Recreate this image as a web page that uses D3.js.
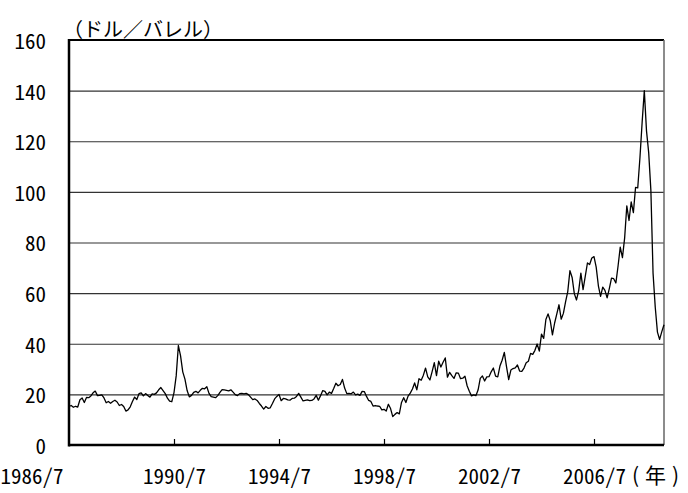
<!DOCTYPE html>
<html>
<head>
<meta charset="utf-8">
<script src="https://cdn.jsdelivr.net/npm/d3@7"></script>
<style>
body { margin: 0; background: #fff; }
text { font-family: "Noto Sans CJK JP", "Noto Sans", sans-serif; fill: #000; }
.num { font-feature-settings: "hwid" 1; }
</style>
</head>
<body>
<div id="chart"></div>
<script>
// monthly crude price (USD/bbl), first value = 1986/7
const startYear = 1986, startMonth = 7;
const prices1986 = [15.2, 15.6, 14.9, 15.3, 15.0, 17.9];
const prices1987 = [18.6, 16.8, 18.8, 18.7, 19.4, 20.6, 21.3, 19.5, 19.6, 19.8, 18.6, 16.7];
const prices1988 = [17.2, 16.5, 17.2, 17.7, 17.0, 15.6, 16.0, 15.2, 13.4, 13.9, 15.1, 17.2];
const prices1989 = [18.9, 18.0, 20.3, 20.6, 19.4, 20.3, 19.6, 18.9, 20.2, 20.0, 20.6, 21.8];
const prices1990 = [22.7, 21.5, 20.3, 18.5, 17.3, 17.1, 20.7, 27.3, 39.3, 35.2, 28.9, 26.0];
const prices1991 = [21.5, 19.0, 19.6, 20.8, 21.2, 20.6, 21.6, 22.4, 22.2, 23.0, 20.4, 19.1];
const prices1992 = [18.9, 18.7, 19.5, 20.8, 21.9, 21.8, 21.6, 21.4, 21.8, 20.9, 19.9, 19.5];
const prices1993 = [20.3, 20.4, 20.2, 20.4, 19.9, 18.9, 17.9, 18.2, 17.6, 16.4, 15.4, 14.2];
const prices1994 = [15.2, 14.5, 14.7, 16.4, 18.2, 19.2, 20.0, 17.5, 18.4, 18.2, 17.8, 17.7];
const prices1995 = [18.4, 18.5, 19.2, 20.4, 18.9, 17.4, 17.6, 17.8, 17.5, 17.6, 18.2, 19.6];
const prices1996 = [17.7, 19.5, 21.5, 21.2, 19.8, 20.9, 20.4, 22.3, 24.4, 23.4, 23.9, 25.9];
const prices1997 = [22.5, 20.3, 20.4, 20.2, 20.9, 19.8, 20.1, 19.6, 21.2, 21.1, 19.2, 17.6];
const prices1998 = [17.2, 15.4, 15.6, 15.4, 15.3, 13.9, 14.1, 13.4, 16.1, 14.4, 11.2, 12.1];
const prices1999 = [12.8, 12.3, 16.8, 18.7, 16.8, 19.3, 20.5, 22.1, 24.5, 21.8, 26.2, 25.6];
const prices2000 = [27.6, 30.4, 26.9, 25.7, 29.0, 32.5, 27.4, 33.1, 30.8, 32.7, 34.4, 26.8];
const prices2001 = [28.7, 27.4, 26.3, 28.5, 28.4, 26.2, 26.4, 27.2, 23.4, 21.2, 19.4, 19.8];
const prices2002 = [19.5, 21.7, 26.3, 27.3, 25.3, 26.9, 27.0, 28.9, 30.4, 27.2, 26.9, 31.2];
const prices2003 = [33.5, 36.6, 31.0, 25.8, 29.6, 30.2, 30.5, 31.6, 29.2, 29.1, 30.4, 32.5];
const prices2004 = [33.1, 36.2, 35.8, 37.4, 39.9, 37.1, 43.8, 42.1, 49.6, 51.8, 49.1, 43.5];
const prices2005 = [48.2, 51.8, 55.4, 49.7, 52.0, 56.5, 60.6, 68.9, 66.2, 59.8, 57.3, 61.0];
const prices2006 = [67.9, 61.4, 66.6, 71.9, 71.3, 73.9, 74.4, 70.3, 62.9, 58.7, 62.4, 61.1];
const prices2007 = [58.1, 61.8, 65.9, 65.7, 64.0, 70.7, 78.2, 74.0, 81.7, 94.5, 88.7, 96.0];
const prices2008 = [91.8, 101.8, 101.6, 113.5, 127.4, 140.0, 124.1, 115.5, 100.6, 67.8, 54.4, 44.6];
const prices2009 = [41.7, 44.8, 47.5];

const xTickLabels = ["1986/7", "1990/7", "1994/7", "1998/7", "2002/7", "2006/7"];
const yTicks = [0, 20, 40, 60, 80, 100, 120, 140, 160];
const yUnit = "（ドル／バレル）";
const xUnit = "(年)";

function drawChart(container) {
	const width = 688, height = 493;
	const margin = { left: 69, right: 24, top: 40, bottom: 48 };

	const values = [prices1986, prices1987, prices1988, prices1989, prices1990, prices1991,
		prices1992, prices1993, prices1994, prices1995, prices1996, prices1997, prices1998,
		prices1999, prices2000, prices2001, prices2002, prices2003, prices2004, prices2005,
		prices2006, prices2007, prices2008, prices2009].flat();
	const data = values.map((v, i) => ({ i: i, v: v }));

	// label "yyyy/m" -> month index from start
	const monthIndex = (s) => {
		const [yy, mm] = s.split("/").map(Number);
		return (yy - startYear) * 12 + (mm - startMonth);
	};

	const x = d3.scaleLinear()
		.domain([0, data.length - 1])
		.range([margin.left, width - margin.right]);
	const y = d3.scaleLinear()
		.domain([0, 160])
		.range([height - margin.bottom, margin.top]);

	const svg = d3.select(container)
		.append("svg")
		.attr("width", width)
		.attr("height", height);

	// grid + y labels
	const yAxis = svg.append("g")
		.attr("transform", `translate(${margin.left},0)`)
		.call(d3.axisLeft(y)
			.tickValues(yTicks)
			.tickSize(-(width - margin.left - margin.right))
			.tickPadding(23));
	yAxis.select(".domain").remove();
	yAxis.selectAll(".tick line")
		.attr("stroke", "#333")
		.attr("stroke-width", 1.2);
	yAxis.selectAll(".tick text")
		.attr("class", "num")
		.attr("font-size", "21px")
		.attr("font-family", "Noto Sans CJK JP")
		.attr("dy", "0.4em")
		.attr("fill", "#000");

	// frame
	svg.append("line")
		.attr("x1", margin.left).attr("x2", width - margin.right)
		.attr("y1", y(160)).attr("y2", y(160))
		.attr("stroke", "#000").attr("stroke-width", 2);
	svg.append("line")
		.attr("x1", width - margin.right).attr("x2", width - margin.right)
		.attr("y1", y(160)).attr("y2", y(0))
		.attr("stroke", "#666").attr("stroke-width", 1.5);

	// x axis with inward ticks
	const xAxis = svg.append("g")
		.attr("transform", `translate(0,${y(0)})`)
		.call(d3.axisBottom(x)
			.tickValues(xTickLabels.map(monthIndex))
			.tickFormat((d, k) => xTickLabels[k])
			.tickSizeInner(-6)
			.tickSizeOuter(0)
			.tickPadding(24));
	xAxis.select(".domain").remove();
	xAxis.selectAll(".tick line")
		.attr("stroke", "#000")
		.attr("stroke-width", 1.2);
	xAxis.selectAll(".tick text")
		.attr("class", "num")
		.attr("font-size", "21px")
		.attr("font-family", "Noto Sans CJK JP")
		.attr("fill", "#000");
	// first label sits flush to the left edge
	xAxis.selectAll(".tick text")
		.filter((d) => d === 0)
		.attr("text-anchor", "start")
		.attr("x", -margin.left);
	xAxis.selectAll(".tick line")
		.filter((d) => d === 0)
		.remove();

	// the line
	const line = d3.line()
		.x((d) => x(d.i))
		.y((d) => y(d.v));
	svg.append("path")
		.datum(data)
		.attr("fill", "none")
		.attr("stroke", "#000")
		.attr("stroke-width", 1.3)
		.attr("stroke-linejoin", "round")
		.attr("d", line);

	// axes lines on top
	svg.append("line")
		.attr("x1", margin.left).attr("x2", margin.left)
		.attr("y1", y(160) - 1).attr("y2", y(0) + 1.5)
		.attr("stroke", "#000").attr("stroke-width", 2.5);
	svg.append("line")
		.attr("x1", margin.left).attr("x2", width - margin.right)
		.attr("y1", y(0)).attr("y2", y(0))
		.attr("stroke", "#000").attr("stroke-width", 2.5);

	// unit labels
	svg.append("text")
		.attr("x", 63)
		.attr("y", 37)
		.attr("font-size", "20px")
		.text(yUnit);
	svg.append("text")
		.attr("x", 632)
		.attr("y", 483)
		.attr("font-size", "21px")
		.attr("letter-spacing", "6px")
		.text(xUnit);
}

drawChart(document.getElementById("chart"));
</script>
</body>
</html>
